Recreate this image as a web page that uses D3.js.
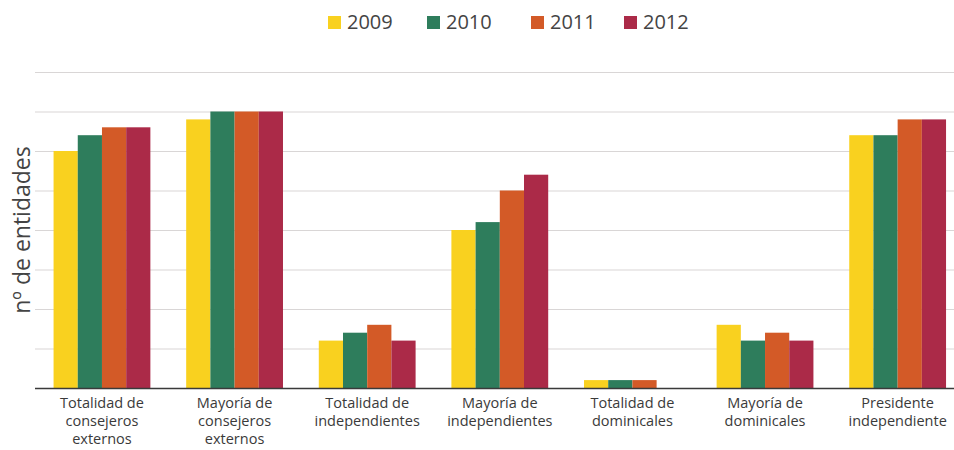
<!DOCTYPE html>
<html>
<head>
<meta charset="utf-8">
<script src="https://cdn.jsdelivr.net/npm/d3@7"></script>
<style>
  body { margin: 0; background: #fff; }
  text { font-family: "Open Sans", "Noto Sans", sans-serif; }
</style>
</head>
<body>
<div id="chart"></div>
<script>
var width = 954,
    height = 450;

var categories = [
  ["Totalidad de", "consejeros", "externos"],
  ["Mayoría de", "consejeros", "externos"],
  ["Totalidad de", "independientes"],
  ["Mayoría de", "independientes"],
  ["Totalidad de", "dominicales"],
  ["Mayoría de", "dominicales"],
  ["Presidente", "independiente"]
];

var years = ["2009", "2010", "2011", "2012"];
var colors = ["#f9d11f", "#2e7d5c", "#d35a27", "#ab2a48"];

// nº de entidades por año
var v2009 = [30, 34, 6, 20, 1, 8, 32];
var v2010 = [32, 35, 7, 21, 1, 6, 32];
var v2011 = [33, 35, 8, 25, 1, 7, 34];
var v2012 = [33, 35, 6, 27, 0, 6, 34];
var series = [v2009, v2010, v2011, v2012];

var yTicks = [0, 5, 10, 15, 20, 25, 30, 35, 40];

var svg = d3.select("#chart").append("svg")
    .attr("width", width)
    .attr("height", height);

var x = d3.scaleBand()
    .domain(d3.range(categories.length))
    .range([35, 954])
    .paddingInner(0.27)
    .paddingOuter(0.1)
    .align(0.7);

var x1 = d3.scaleBand()
    .domain(years)
    .range([0, x.bandwidth()]);

var y = d3.scaleLinear()
    .domain([0, 40])
    .range([388, 72]);

// gridlines
svg.append("g")
  .selectAll("line")
  .data(yTicks.slice(1))
  .enter().append("line")
    .attr("x1", 35)
    .attr("x2", width)
    .attr("y1", function(d) { return y(d) + 0.5; })
    .attr("y2", function(d) { return y(d) + 0.5; })
    .attr("stroke", "#d9d6d6")
    .attr("stroke-width", 1.2);

// bars
var groups = svg.append("g")
  .selectAll("g")
  .data(categories)
  .enter().append("g")
    .attr("transform", function(d, i) { return "translate(" + x(i) + ",0)"; });

groups.selectAll("rect")
  .data(function(d, i) { return series.map(function(s, j) { return { year: years[j], value: s[i], c: colors[j] }; }); })
  .enter().append("rect")
    .attr("x", function(d) { return x1(d.year); })
    .attr("width", x1.bandwidth())
    .attr("y", function(d) { return y(d.value); })
    .attr("height", function(d) { return y(0) - y(d.value); })
    .attr("fill", function(d) { return d.c; });

// baseline
svg.append("line")
    .attr("x1", 35)
    .attr("x2", width)
    .attr("y1", y(0) + 0.5)
    .attr("y2", y(0) + 0.5)
    .attr("stroke", "#3a3a3a")
    .attr("stroke-width", 1.5);

// category labels
groups.append("text")
    .attr("text-anchor", "middle")
    .attr("fill", "#3a3a3a")
    .attr("font-size", 14.5)
    .each(function(d) {
      var t = d3.select(this);
      d.forEach(function(line, k) {
        t.append("tspan")
          .attr("x", x.bandwidth() / 2)
          .attr("y", 408 + k * 18)
          .text(line);
      });
    });

// y axis title
svg.append("text")
    .attr("transform", "translate(30,230) rotate(-90)")
    .attr("text-anchor", "middle")
    .attr("fill", "#444")
    .attr("font-size", 23)
    .text("nº de entidades");

// legend
var legendX = [328, 427, 531, 624];
var legend = svg.append("g")
  .selectAll("g")
  .data(years)
  .enter().append("g")
    .attr("transform", function(d, i) { return "translate(" + legendX[i] + ",16)"; });

legend.append("rect")
    .attr("width", 13)
    .attr("height", 13)
    .attr("fill", function(d, i) { return colors[i]; });

legend.append("text")
    .attr("x", 19)
    .attr("y", 13)
    .attr("fill", "#444")
    .attr("font-size", 20)
    .text(function(d) { return d; });
</script>
</body>
</html>
